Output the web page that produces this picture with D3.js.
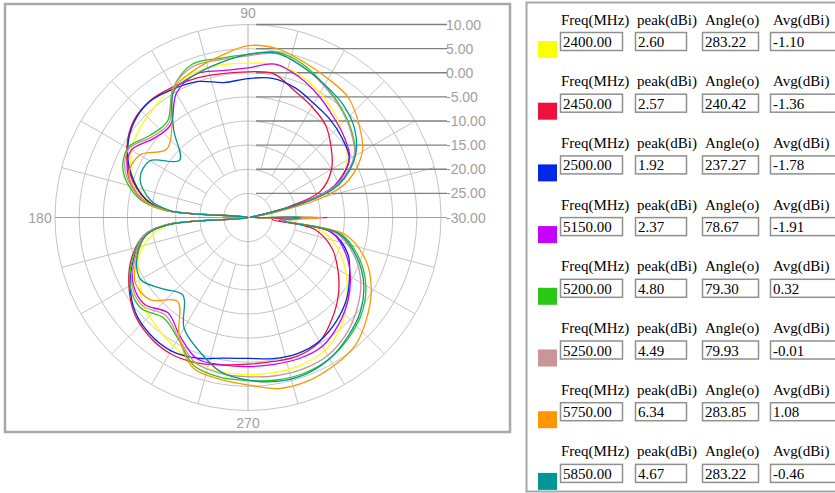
<!DOCTYPE html>
<html><head><meta charset="utf-8">
<script src="https://cdn.jsdelivr.net/npm/d3@7"></script>
<style>body{margin:0;background:#fff}svg{display:block}</style>
</head><body>
<svg id="c" width="835" height="493"></svg>
<script>
// ---------- DATA ----------
const angles = [0,5,10,15,20,30,40,50,60,70,80,90,100,110,120,130,140,150,160,170,175,180,185,190,200,210,220,230,240,250,260,270,280,290,300,310,320,330,340,350,355];
const freqs = ["2400.00","2450.00","2500.00","5150.00","5200.00","5250.00","5750.00","5850.00"];
const peaks = ["2.60","2.57","1.92","2.37","4.80","4.49","6.34","4.67"];
const peakAngles = ["283.22","240.42","237.27","78.67","79.30","79.93","283.85","283.22"];
const avgs = ["-1.10","-1.36","-1.78","-1.91","0.32","-0.01","1.08","-0.46"];
const colors = ["#ffff00","#f0103c","#0028e6","#c800ff","#28c814","#c89696","#ff9600","#009696"];
const headers = ["Freq(MHz)","peak(dBi)","Angle(o)","Avg(dBi)"];
const ringTicks = [10,5,0,-5,-10,-15,-20,-25,-30];
const angleLabels = [["90",90],["180",180],["270",270]];

const s2400 = [-18,-29.5,-28,-18.5,-11,-6.3,-4.1,-2.0,-0.2,1.4,2.2,2.0,2.1,2.0,1.2,0.0,-0.9,-2.0,-4.5,-9,-13.5,-30,-14,-10,-5.8,-4.0,-1.7,-0.5,0.8,2.2,2.5,2.5,2.6,2.5,1.8,-0.2,-3.3,-6.5,-10,-14.5,-24];
const s2450 = [-13.6,-29.5,-28.5,-21,-14,-10,-7.5,-5.0,-3.5,-2.0,0.3,0.2,0.3,0.8,1.2,1.6,1.0,-1.0,-4.0,-8.5,-13,-30,-13.5,-8,-4.2,-1.5,0.8,2.0,2.5,2.0,1.0,0.4,0.3,0.5,-0.3,-2.8,-5.5,-8.5,-11.5,-16,-25];
const s2500 = [-15.5,-29.5,-28,-18.5,-11,-5.8,-4.5,-3.5,-2.7,-1.4,-0.7,-1.2,-1.6,0.0,0.8,1.5,0.8,-1.2,-4.3,-8.5,-13,-30,-13.5,-8,-4.8,-1.8,0.5,1.6,1.9,1.0,-0.4,-0.8,-0.3,0.0,-0.4,-1.7,-3.4,-5.7,-8.0,-12.5,-23];
const s5150 = [-17,-29.5,-28,-18.5,-11,-5.7,-4.0,-2.6,-0.8,1.0,2.3,1.0,0.9,1.6,-0.3,-5.0,-4.5,-2.1,-3.5,-7.5,-13,-30,-13.5,-8,-5,-2.5,-2.0,-4.2,-1.7,1.1,1.0,0.9,0.9,1.1,0.8,-0.9,-3.0,-5.5,-8.5,-12.5,-23.5];
const s5200 = [-17,-29.5,-28,-17.5,-10,-4.4,-2.0,-0.1,1.7,3.7,4.8,3.8,3.5,3.8,1.0,-4.0,-3.5,-1.2,-2.5,-7,-12.5,-30,-13,-8,-4.5,-1.8,-0.9,-2.8,-1.0,2.7,3.6,3.8,4.2,4.3,3.8,2.5,0.8,-1.8,-5.5,-10.5,-22.5];
const s5250 = [-18,-29.5,-28,-18,-10.5,-4.6,-2.2,-0.3,1.5,3.3,4.5,3.5,3.2,3.3,1.0,-4.5,-4.0,-1.5,-3.0,-7.5,-13,-30,-13.5,-8,-5,-2.2,-1.5,-3.5,-1.2,2.0,2.8,3.0,3.3,3.4,3.0,1.6,-0.5,-3.0,-6.5,-11.5,-23];
const s5750 = [-14.5,-29,-25,-14,-8,-2.6,0.0,2.4,3.2,4.2,5.5,5.6,3.9,2.5,0.8,-5.5,-8.0,-4.1,-3.7,-7.8,-13,-30,-13.5,-8.5,-5.5,-3.0,-3.5,-7.3,-1.5,3.2,4.0,4.7,6.0,6.1,5.5,4.6,2.2,-0.5,-4.0,-9.5,-21.5];
const s5850 = [-19,-29.5,-28,-17.5,-10,-4.3,-1.2,0.6,1.8,3.2,4.6,3.8,2.6,1.6,0.5,-6.0,-11.5,-6.5,-6.2,-9.5,-14,-30,-14,-8.5,-5.5,-4.3,-7.0,-9.0,-3.5,-0.5,2.5,3.7,4.5,4.6,3.8,2.2,0.4,-2.3,-6.0,-11,-22.5];
const seriesValues = [s2400,s2450,s2500,s5150,s5200,s5250,s5750,s5850];

// ---------- DRAW ----------
const svg = d3.select("#c");
const cx = 248, cy = 217.5, R = 193;
const rScale = d3.scaleLinear().domain([-30,10]).range([0,R]);
const aScale = d3.scaleLinear().domain([0,360]).range([Math.PI/2, Math.PI/2 - 2*Math.PI]);
const px = (deg, rad) => cx + rad*Math.cos(deg*Math.PI/180);
const py = (deg, rad) => cy - rad*Math.sin(deg*Math.PI/180);

svg.append("rect").attr("x",5).attr("y",4).attr("width",505).attr("height",428)
  .attr("fill","#fff").attr("stroke","#a8a8a8").attr("stroke-width",2.5);

const g = svg.append("g");
const ringVals = ringTicks.filter(v => v > -30);
g.selectAll("circle.ring").data(ringVals).join("circle")
  .attr("cx",cx).attr("cy",cy).attr("r",d=>rScale(d))
  .attr("fill","none").attr("stroke","#c4c4c4").attr("stroke-width",1);
const spokeAngles = d3.range(0,360,15).filter(d => d % 90 !== 0);
g.selectAll("line.spoke").data(spokeAngles).join("line")
  .attr("x1",d=>px(d, rScale(d%45===0?-25:-20))).attr("y1",d=>py(d, rScale(d%45===0?-25:-20)))
  .attr("x2",d=>px(d,R)).attr("y2",d=>py(d,R))
  .attr("stroke","#c4c4c4").attr("stroke-width",1);
g.append("line").attr("x1",cx).attr("x2",cx).attr("y1",cy-R).attr("y2",cy+R).attr("stroke","#b0b0b0");
g.append("line").attr("x1",cx-R).attr("x2",447).attr("y1",cy).attr("y2",cy).attr("stroke","#a0a0a0");

g.selectAll("line.tick").data(ringTicks.filter(v=>v>-30)).join("line")
  .attr("x1",256).attr("x2",447).attr("y1",d=>cy-rScale(d)).attr("y2",d=>cy-rScale(d))
  .attr("stroke","#808080").attr("stroke-width",1.3);
g.selectAll("text.tick").data(ringTicks).join("text")
  .attr("x",446).attr("y",d=>cy-rScale(d)+5)
  .attr("font-family","Liberation Sans, Arial, sans-serif").attr("font-size",14)
  .attr("fill","#a0a0a0").text(d=>d.toFixed(2));

g.selectAll("text.ang").data(angleLabels).join("text")
  .attr("x",d=>px(d[1], R + (d[1]===180? 15 : 12)))
  .attr("y",d=>py(d[1], R + (d[1]===180? 0 : 12)) + 5)
  .attr("text-anchor","middle")
  .attr("font-family","Liberation Sans, Arial, sans-serif").attr("font-size",14)
  .attr("fill","#a0a0a0").text(d=>d[0]);

const line = d3.lineRadial()
  .angle(d=>aScale(d[0])).radius(d=>rScale(d[1]))
  .curve(d3.curveCatmullRomClosed.alpha(0.5));
const cg = svg.append("g").attr("transform",`translate(${cx},${cy})`);
seriesValues.forEach((vals,i)=>{
  cg.append("path").attr("d", line(angles.map((a,k)=>[a, vals[k]])))
    .attr("fill","none").attr("stroke",colors[i]).attr("stroke-width",1.3)
    .attr("stroke-linejoin","round");
});

// ---------- LEGEND ----------
svg.append("rect").attr("x",526.5).attr("y",2.5).attr("width",320).attr("height",489)
  .attr("fill","#fff").attr("stroke","#a8a8a8").attr("stroke-width",2);
const colX = [561, 637, 705, 773];
const boxX = [560, 635, 702, 770];
const boxW = [62, 51, 56, 80];
const rowH = 61.7;
freqs.forEach((f,i)=>{
  const row = svg.append("g").attr("transform",`translate(0,${i*rowH})`);
  headers.forEach((h,j)=>{
    row.append("text").attr("x",colX[j]).attr("y",24.5)
      .attr("font-family","Liberation Serif, Times New Roman, serif").attr("font-size",15)
      .attr("fill","#000").text(h);
  });
  row.append("rect").attr("x",538).attr("y",41).attr("width",19).attr("height",17).attr("fill",colors[i]);
  const vals = [f, peaks[i], peakAngles[i], avgs[i]];
  vals.forEach((v,j)=>{
    row.append("rect").attr("x",boxX[j]+0.5).attr("y",32.5).attr("width",boxW[j]).attr("height",18)
      .attr("fill","#fff").attr("stroke","#909090").attr("stroke-width",1.5);
    row.append("text").attr("x",boxX[j]+3).attr("y",47)
      .attr("font-family","Liberation Serif, Times New Roman, serif").attr("font-size",15)
      .attr("fill","#000").text(v);
  });
});
</script>
</body></html>
